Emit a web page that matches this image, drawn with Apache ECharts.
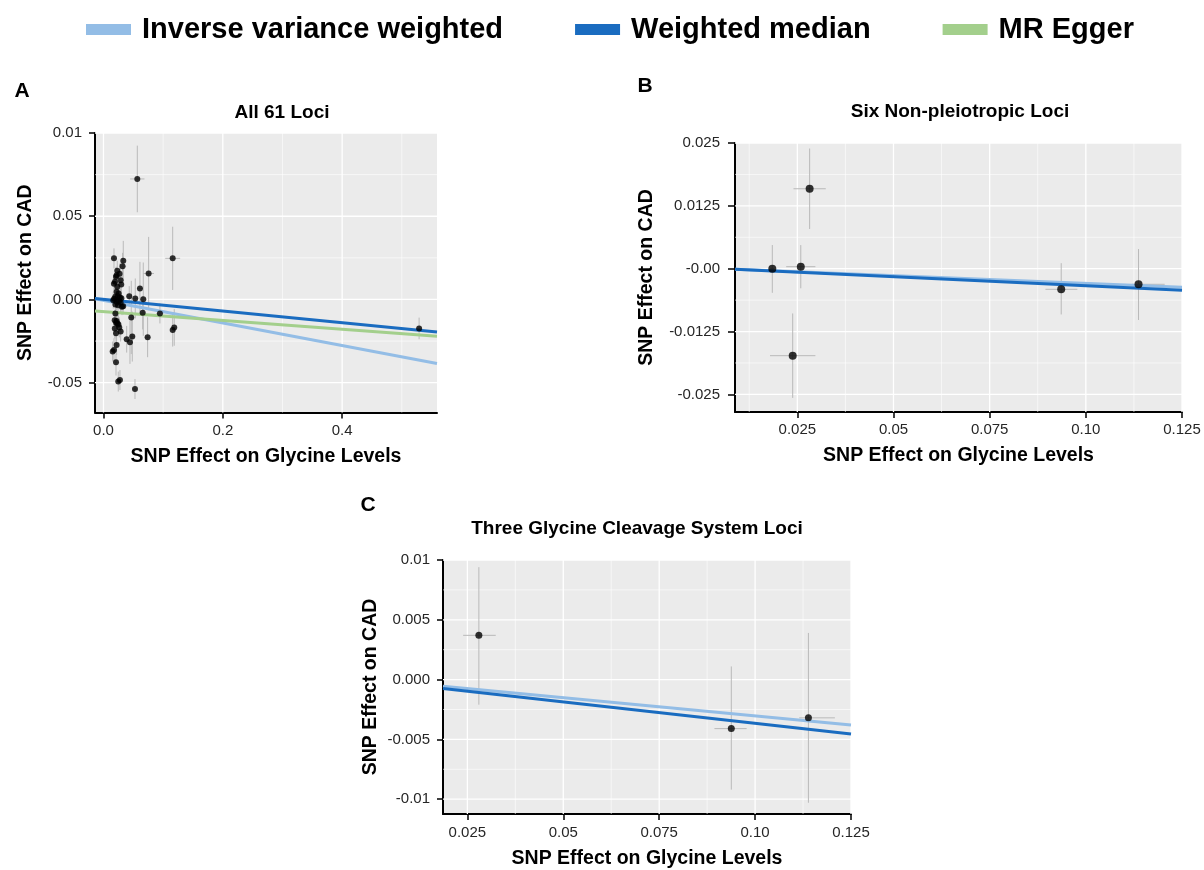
<!DOCTYPE html>
<html>
<head>
<meta charset="utf-8">
<title>MR scatter plots - glycine and CAD</title>
<script src="https://cdn.jsdelivr.net/npm/echarts@6/dist/echarts.min.js"></script>
<style>
html, body { margin: 0; padding: 0; background: #ffffff; }
#main { width: 1204px; height: 870px; }
</style>
</head>
<body>
<div id="main"></div>
<script>
//Method names (legend)
var methodNames = ['Inverse variance weighted', 'Weighted median', 'MR Egger'];

//Panel A : all 61 loci (x = effect on glycine, y = effect on CAD)
var lociAX = [0.0567, 0.116, 0.0176, 0.0332, 0.032, 0.0231, 0.0757, 0.022, 0.021, 0.0288,
    0.0193, 0.0298, 0.0231, 0.0611, 0.022, 0.0254, 0.0432, 0.0198, 0.0276, 0.0533,
    0.0667, 0.0164, 0.022, 0.0288, 0.0243, 0.031, 0.0657, 0.0946, 0.0466, 0.0188,
    0.022, 0.021, 0.0231, 0.0265, 0.0288, 0.021, 0.0483, 0.0389, 0.0444, 0.074,
    0.116, 0.1186, 0.022, 0.0176, 0.0154, 0.021, 0.0248, 0.0276, 0.0528, 0.529,
    0.018, 0.026, 0.020, 0.030, 0.024, 0.019, 0.025, 0.0175, 0.027, 0.020, 0.033];
var lociAY = [0.0724, 0.0247, 0.0247, 0.0232, 0.020, 0.0172, 0.0156, 0.0146, 0.0136, 0.0116,
    0.0106, 0.009, 0.0076, 0.0066, 0.0046, 0.0036, 0.002, 0.0016, 0.0012, 0.0006,
    0.0002, -0.0004, -0.0014, -0.002, -0.0034, -0.0044, -0.008, -0.0084, -0.0108, -0.0125,
    -0.0129, -0.014, -0.0143, -0.0168, -0.0193, -0.0203, -0.0223, -0.0239, -0.0257, -0.0227,
    -0.0183, -0.0168, -0.0273, -0.0303, -0.0313, -0.0377, -0.0493, -0.0484, -0.0538, -0.0174,
    0.0005, -0.001, -0.003, 0.0008, 0.002, -0.0175, -0.015, 0.0095, 0.0155, -0.0085, -0.004];
var lociAXErr = [0.012, 0.0125, 0.002, 0.003, 0.006, 0.002, 0.009, 0.002, 0.002, 0.003,
    0.002, 0.003, 0.002, 0.005, 0.002, 0.003, 0.004, 0.002, 0.003, 0.004,
    0.005, 0.002, 0.002, 0.003, 0.002, 0.006, 0.005, 0.006, 0.004, 0.002,
    0.002, 0.002, 0.002, 0.003, 0.003, 0.002, 0.004, 0.004, 0.004, 0.005,
    0.004, 0.004, 0.002, 0.002, 0.002, 0.002, 0.003, 0.003, 0.003, 0.004,
    0.002, 0.002, 0.002, 0.003, 0.002, 0.002, 0.002, 0.002, 0.002, 0.002, 0.003];
var lociAYErr = [0.020, 0.019, 0.006, 0.012, 0.008, 0.006, 0.022, 0.005, 0.006, 0.010,
    0.005, 0.007, 0.005, 0.016, 0.006, 0.007, 0.006, 0.004, 0.006, 0.012,
    0.022, 0.005, 0.005, 0.006, 0.005, 0.005, 0.010, 0.006, 0.022, 0.006,
    0.005, 0.005, 0.006, 0.006, 0.006, 0.007, 0.015, 0.008, 0.013, 0.012,
    0.010, 0.011, 0.006, 0.007, 0.006, 0.008, 0.006, 0.006, 0.006, 0.0065,
    0.004, 0.005, 0.004, 0.005, 0.005, 0.006, 0.006, 0.005, 0.006, 0.005, 0.005];
var ivwA = [[-0.0142, 0.0004], [0.559, -0.0385]];
var wmA = [[-0.0142, 0.0006], [0.559, -0.0195]];
var eggerA = [[-0.0142, -0.0069], [0.559, -0.0221]];
var aXTicks = [0, 0.2, 0.4];
var aXLabels = ['0.0', '0.2', '0.4'];
var aXMinor = [0.1, 0.3, 0.5];
var aYTicks = [-0.05, 0, 0.05, 0.1];
var aYLabels = ['-0.05', '0.00', '0.05', '0.01'];
var aYMinor = [-0.025, 0.025, 0.075];

//Panel B : six non-pleiotropic loci
var lociBX = [0.0185, 0.0259, 0.0282, 0.0238, 0.0936, 0.1137];
var lociBY = [0.0000, 0.0004, 0.0159, -0.0173, -0.0041, -0.0031];
var lociBXLo = [0.0180, 0.0221, 0.0240, 0.0179, 0.0895, 0.1120];
var lociBXHi = [0.0190, 0.0297, 0.0324, 0.0297, 0.0978, 0.1205];
var lociBYLo = [-0.0048, -0.0039, 0.0079, -0.0257, -0.0091, -0.0102];
var lociBYHi = [0.0047, 0.0047, 0.0239, -0.0089, 0.0011, 0.0039];
var ivwB = [[0.0088, -0.0001], [0.125, -0.0037]];
var wmB = [[0.0088, -0.0001], [0.125, -0.0043]];
var bXTicks = [0.025, 0.05, 0.075, 0.1, 0.125];
var bXLabels = ['0.025', '0.05', '0.075', '0.10', '0.125'];
var bXMinor = [0.0125, 0.0375, 0.0625, 0.0875, 0.1125];
var bYTicks = [-0.025, -0.0125, 0, 0.0125, 0.025];
var bYLabels = ['-0.025', '-0.0125', '-0.00', '0.0125', '0.025'];
var bYMinor = [-0.01875, -0.00625, 0.00625, 0.01875];

//Panel C : three glycine cleavage system loci
var lociCX = [0.028, 0.0938, 0.1139];
var lociCY = [0.0037, -0.0041, -0.0032];
var lociCXLo = [0.0239, 0.0894, 0.1115];
var lociCXHi = [0.0324, 0.0978, 0.1208];
var lociCYLo = [-0.0021, -0.0092, -0.0103];
var lociCYHi = [0.0094, 0.0011, 0.0039];
var ivwC = [[0.01865, -0.00055], [0.125, -0.0038]];
var wmC = [[0.01865, -0.00074], [0.125, -0.00455]];
var cXTicks = [0.025, 0.05, 0.075, 0.1, 0.125];
var cXLabels = ['0.025', '0.05', '0.075', '0.10', '0.125'];
var cXMinor = [0.0375, 0.0625, 0.0875, 0.1125];
var cYTicks = [-0.01, -0.005, 0, 0.005, 0.01];
var cYLabels = ['-0.01', '-0.005', '0.000', '0.005', '0.01'];
var cYMinor = [-0.0075, -0.0025, 0.0025, 0.0075];

var FONT = '"Liberation Sans", Arial, sans-serif';
var ivwColor = '#93bde6';
var wmColor = '#1a6cc0';
var eggerColor = '#a3cf8c';

function tickFormatter(ticks, labels) {
    return function (value) {
        for (var i = 0; i < ticks.length; i++) {
            if (Math.abs(ticks[i] - value) < 1e-9) {
                return labels[i];
            }
        }
        return '';
    };
}

function makeAxis(gi, min, max, ticks, labels, name, nameGap, margin, tickLen) {
    return {
        type: 'value',
        gridIndex: gi,
        min: min,
        max: max,
        name: name,
        nameLocation: 'middle',
        nameGap: nameGap,
        nameTextStyle: { fontFamily: FONT, fontSize: 19.5, fontWeight: 'bold', color: '#000' },
        axisLine: { show: true, onZero: false, lineStyle: { color: '#000', width: 2 } },
        axisTick: { show: true, customValues: ticks, length: tickLen, lineStyle: { color: '#000', width: 1.5 } },
        axisLabel: {
            show: true, customValues: ticks, margin: margin,
            fontFamily: FONT, fontSize: 15, color: '#262626',
            formatter: tickFormatter(ticks, labels)
        },
        splitLine: { show: false }
    };
}

// white ggplot-like grid lines, drawn from the axis scales
function gridLineSeries(gi, xMajor, xMinor, yMajor, yMinor) {
    var data = [];
    xMajor.forEach(function (v) { data.push([v, 0, 1.3]); });
    xMinor.forEach(function (v) { data.push([v, 0, 0.6]); });
    yMajor.forEach(function (v) { data.push([v, 1, 1.3]); });
    yMinor.forEach(function (v) { data.push([v, 1, 0.6]); });
    return {
        type: 'custom',
        xAxisIndex: gi,
        yAxisIndex: gi,
        silent: true,
        z: 1,
        data: data,
        renderItem: function (params, api) {
            var v = api.value(0);
            var cs = params.coordSys;
            var style = { stroke: '#ffffff', lineWidth: api.value(2) };
            if (api.value(1) === 0) {
                var x = api.coord([v, 0])[0];
                return { type: 'line', shape: { x1: x, y1: cs.y, x2: x, y2: cs.y + cs.height }, style: style };
            }
            var y = api.coord([0, v])[1];
            return { type: 'line', shape: { x1: cs.x, y1: y, x2: cs.x + cs.width, y2: y }, style: style };
        }
    };
}

function errorBarSeries(gi, data) {
    return {
        type: 'custom',
        xAxisIndex: gi,
        yAxisIndex: gi,
        silent: true,
        clip: true,
        z: 2,
        data: data,
        renderItem: function (params, api) {
            var x = api.value(0), y = api.value(1);
            var a = api.coord([api.value(2), y]), b = api.coord([api.value(3), y]);
            var c = api.coord([x, api.value(4)]), d = api.coord([x, api.value(5)]);
            var style = { stroke: '#b9b9b9', lineWidth: 1 };
            return {
                type: 'group', children: [
                    { type: 'line', shape: { x1: a[0], y1: a[1], x2: b[0], y2: b[1] }, style: style },
                    { type: 'line', shape: { x1: c[0], y1: c[1], x2: d[0], y2: d[1] }, style: style }
                ]
            };
        }
    };
}

function fitLine(gi, name, color, data, z) {
    return {
        type: 'line', name: name, xAxisIndex: gi, yAxisIndex: gi,
        data: data, symbol: 'none', silent: true, z: z, color: color,
        lineStyle: { color: color, width: 3 }
    };
}

function pointSeries(gi, xs, ys, size) {
    var data = [];
    for (var i = 0; i < xs.length; i++) {
        data.push([xs[i], ys[i]]);
    }
    return {
        type: 'scatter', xAxisIndex: gi, yAxisIndex: gi, data: data,
        symbolSize: size, itemStyle: { color: '#000' }, z: 5, silent: true
    };
}

//Build error bar items
var barsA = [];
for (var i = 0; i < lociAX.length; i++) {
    barsA.push([lociAX[i], lociAY[i], lociAX[i] - lociAXErr[i], lociAX[i] + lociAXErr[i],
        lociAY[i] - lociAYErr[i], lociAY[i] + lociAYErr[i]]);
}
var barsB = [];
for (var j = 0; j < lociBX.length; j++) {
    barsB.push([lociBX[j], lociBY[j], lociBXLo[j], lociBXHi[j], lociBYLo[j], lociBYHi[j]]);
}
var barsC = [];
for (var k = 0; k < lociCX.length; k++) {
    barsC.push([lociCX[k], lociCY[k], lociCXLo[k], lociCXHi[k], lociCYLo[k], lociCYHi[k]]);
}

var xName = 'SNP Effect on Glycine Levels';
var yName = 'SNP Effect on CAD';
var gridStyle = { show: true, backgroundColor: '#ebebeb', borderWidth: 0 };

var option = {
    animation: false,
    backgroundColor: '#ffffff',
    legend: {
        left: 81, top: 10,
        icon: 'rect', itemWidth: 45, itemHeight: 11, itemGap: 72,
        selectedMode: false,
        data: methodNames,
        textStyle: { fontFamily: FONT, fontSize: 29, fontWeight: 'bold', color: '#000', padding: [0, 0, 0, 6] }
    },
    grid: [
        Object.assign({ left: 95, top: 133, width: 342, height: 279.5 }, gridStyle),
        Object.assign({ left: 735, top: 143, width: 447, height: 269 }, gridStyle),
        Object.assign({ left: 443, top: 560, width: 408, height: 257 }, gridStyle)
    ],
    xAxis: [
        makeAxis(0, -0.0142, 0.559, aXTicks, aXLabels, xName, 34, 11, 6),
        makeAxis(1, 0.0088, 0.125, bXTicks, bXLabels, xName, 34, 10, 6),
        makeAxis(2, 0.01865, 0.125, cXTicks, cXLabels, xName, 35, 11, 6)
    ],
    yAxis: [
        makeAxis(0, -0.0679, 0.1, aYTicks, aYLabels, yName, 59, 13, 6),
        makeAxis(1, -0.0285, 0.025, bYTicks, bYLabels, yName, 78, 15, 7),
        makeAxis(2, -0.01124, 0.01, cYTicks, cYLabels, yName, 62, 13, 6)
    ],
    graphic: [
        { type: 'text', x: 22, y: 91, style: { text: 'A', font: 'bold 21px ' + FONT, fill: '#000', textAlign: 'center', textVerticalAlign: 'middle' } },
        { type: 'text', x: 645, y: 86, style: { text: 'B', font: 'bold 21px ' + FONT, fill: '#000', textAlign: 'center', textVerticalAlign: 'middle' } },
        { type: 'text', x: 368, y: 505, style: { text: 'C', font: 'bold 21px ' + FONT, fill: '#000', textAlign: 'center', textVerticalAlign: 'middle' } },
        { type: 'text', x: 282, y: 113, style: { text: 'All 61 Loci', font: 'bold 19px ' + FONT, fill: '#000', textAlign: 'center', textVerticalAlign: 'middle' } },
        { type: 'text', x: 960, y: 112, style: { text: 'Six Non-pleiotropic Loci', font: 'bold 19px ' + FONT, fill: '#000', textAlign: 'center', textVerticalAlign: 'middle' } },
        { type: 'text', x: 637, y: 529, style: { text: 'Three Glycine Cleavage System Loci', font: 'bold 19px ' + FONT, fill: '#000', textAlign: 'center', textVerticalAlign: 'middle' } }
    ],
    series: [
        gridLineSeries(0, aXTicks, aXMinor, aYTicks, aYMinor),
        errorBarSeries(0, barsA),
        fitLine(0, methodNames[0], ivwColor, ivwA, 3),
        fitLine(0, methodNames[2], eggerColor, eggerA, 3),
        fitLine(0, methodNames[1], wmColor, wmA, 4),
        pointSeries(0, lociAX, lociAY, 6),

        gridLineSeries(1, bXTicks, bXMinor, bYTicks, bYMinor),
        errorBarSeries(1, barsB),
        fitLine(1, methodNames[0], ivwColor, ivwB, 3),
        fitLine(1, methodNames[1], wmColor, wmB, 4),
        pointSeries(1, lociBX, lociBY, 8),

        gridLineSeries(2, cXTicks, cXMinor, cYTicks, cYMinor),
        errorBarSeries(2, barsC),
        fitLine(2, methodNames[0], ivwColor, ivwC, 3),
        fitLine(2, methodNames[1], wmColor, wmC, 4),
        pointSeries(2, lociCX, lociCY, 7)
    ]
};

var myChart = echarts.init(document.getElementById('main'));
myChart.setOption(option);
</script>
</body>
</html>
